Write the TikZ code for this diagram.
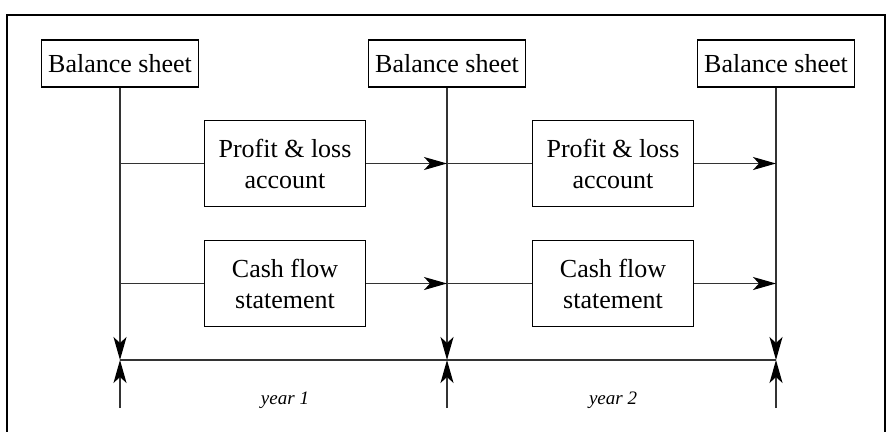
\documentclass[tikz,border=0pt]{standalone}
\usepackage{fontspec}
\setmainfont{Liberation Serif}
\usetikzlibrary{arrows.meta}
\begin{document}
\begin{tikzpicture}[x=1pt,y=-1pt,
  box/.style={draw=black,line width=1.3pt,inner xsep=7pt,inner ysep=0pt,minimum height=47pt,font=\fontsize{26}{31}\selectfont},
  bigbox/.style={draw=black,line width=1.3pt,minimum width=161pt,minimum height=86pt,align=center,font=\fontsize{26}{31}\selectfont},
  conn/.style={draw=black!80,line width=1.3pt},
  arr/.style={conn,-{Stealth[length=23pt,width=13pt,inset=6pt,color=black]}},
  lbl/.style={font=\fontsize{19}{22}\selectfont\itshape}]
\useasboundingbox (0,0) rectangle (888,431);
\draw[line width=2.8pt] (7,15) rectangle (885,460);
% balance sheets
\node[box] (bs1) at (120,63.5) {Balance sheet};
\node[box] (bs2) at (447,63.5) {Balance sheet};
\node[box] (bs3) at (776,63.5) {Balance sheet};
% statements
\node[bigbox] (pl1) at (285,163.5) {Profit \& loss\\account};
\node[bigbox] (cf1) at (285,283.5) {Cash flow\\statement};
\node[bigbox] (pl2) at (613,163.5) {Profit \& loss\\account};
\node[bigbox] (cf2) at (613,283.5) {Cash flow\\statement};
% coordinates
\coordinate (d1) at (120,360);
\coordinate (d2) at (447,360);
\coordinate (d3) at (776,360);
\coordinate (u1) at (120,408);
\coordinate (u2) at (447,408);
\coordinate (u3) at (776,408);
\coordinate (p1) at (120,163.5);
\coordinate (p2) at (447,163.5);
\coordinate (p3) at (776,163.5);
\coordinate (c1) at (120,283.5);
\coordinate (c2) at (447,283.5);
\coordinate (c3) at (776,283.5);
% vertical lines
\draw[arr] (bs1.south) -- (d1);
\draw[arr] (bs2.south) -- (d2);
\draw[arr] (bs3.south) -- (d3);
\draw[arr] (u1) -- (d1);
\draw[arr] (u2) -- (d2);
\draw[arr] (u3) -- (d3);
\draw[conn] (d1) -- (d3);
% horizontal connectors
\draw[conn] (p1) -- (pl1.west);
\draw[arr] (pl1.east) -- (p2);
\draw[conn] (p2) -- (pl2.west);
\draw[arr] (pl2.east) -- (p3);
\draw[conn] (c1) -- (cf1.west);
\draw[arr] (cf1.east) -- (c2);
\draw[conn] (c2) -- (cf2.west);
\draw[arr] (cf2.east) -- (c3);
% labels
\node[lbl] (y1) at (285,400) {year 1};
\node[lbl] (y2) at (613,400) {year 2};
\end{tikzpicture}
\end{document}
